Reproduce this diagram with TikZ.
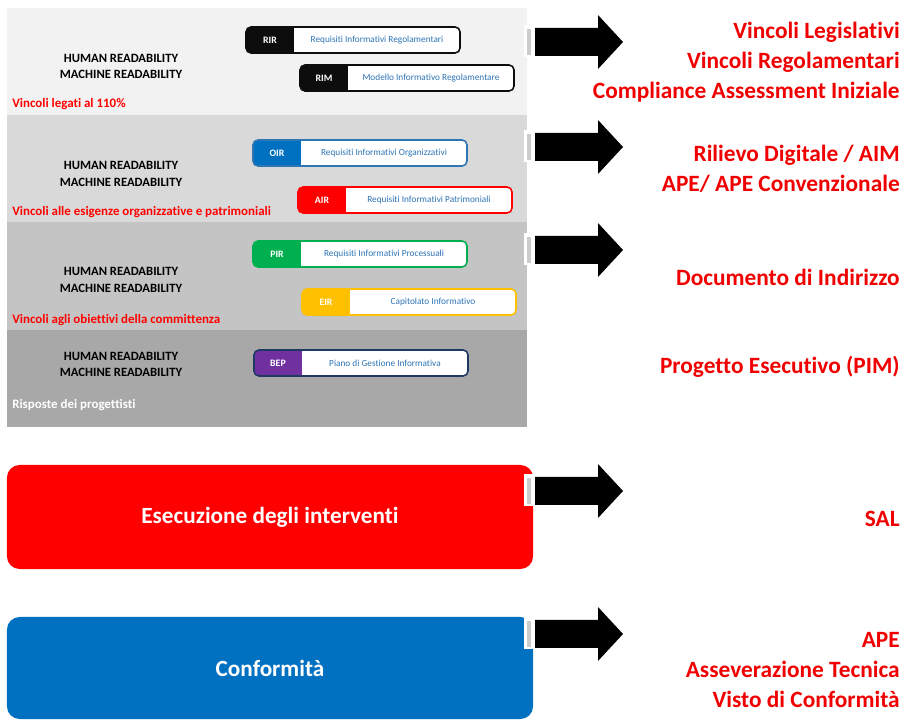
\documentclass[tikz,border=0pt]{standalone}
\usepackage{fontspec}
\setmainfont{Carlito}[Ligatures={NoCommon}]
\usepackage{xcolor}
\usepackage{tikz}
\usetikzlibrary{positioning}

\definecolor{bandA}{HTML}{F2F2F2}
\definecolor{bandB}{HTML}{D9D9D9}
\definecolor{bandC}{HTML}{C4C4C4}
\definecolor{bandD}{HTML}{A8A8A8}
\definecolor{reqblue}{HTML}{2E75B6}
\definecolor{oirblue}{HTML}{0070C0}
\definecolor{airred}{HTML}{FF0000}
\definecolor{pirgreen}{HTML}{00B050}
\definecolor{eiryellow}{HTML}{FFC000}
\definecolor{beppurple}{HTML}{7030A0}
\definecolor{bepnavy}{HTML}{203864}
\definecolor{tagblack}{HTML}{0D0D0D}
\definecolor{outred}{HTML}{F00000}
\definecolor{confblue}{HTML}{0070C0}

\begin{document}
\begin{tikzpicture}[x=0.025cm, y=-0.025cm, every node/.style={inner sep=0pt},
  hrtext/.style={font=\bfseries\fontsize{9}{12}\selectfont, align=center},
  bandnote/.style={font=\bfseries\fontsize{9.2}{10}\selectfont, text=red, anchor=west},
  tagtext/.style={font=\bfseries\fontsize{7}{8}\selectfont, text=white},
  reqtext/.style={font=\fontsize{6.6}{7}\selectfont, text=reqblue},
  outtext/.style={font=\bfseries\fontsize{16.6}{21.3}\selectfont, text=outred, align=right, anchor=east},
  phasebox/.style={rounded corners=9pt, text=white, minimum width=13.15cm,
    font=\bfseries\fontsize{16.5}{20}\selectfont}]
  \useasboundingbox (0,0) rectangle (904,720);

  % grey bands
  \fill[bandA] (7,8) rectangle (527,115);
  \fill[bandB] (7,115) rectangle (527,222);
  \fill[bandC] (7,222) rectangle (527,330);
  \fill[bandD] (7,330) rectangle (527,427);

  % readability labels
  \foreach \yy/\nm in {66.5/hrA, 174/hrB, 280/hrC, 364.5/hrD}
    \node[hrtext] (\nm) at (121,\yy) {HUMAN READABILITY\\MACHINE READABILITY};

  \node[bandnote] (noteA) at (12,104) {Vincoli legati al 110\%};
  \node[bandnote] (noteB) at (12,212) {Vincoli alle esigenze organizzative e patrimoniali};
  \node[bandnote] (noteC) at (12,320) {Vincoli agli obiettivi della committenza};
  \node[bandnote, text=white] (noteD) at (12,405) {Risposte dei progettisti};

  % information requirement pills
  \foreach \px/\py/\col/\bord/\tag/\txt in {
      246/27/tagblack/tagblack/RIR/Requisiti Informativi Regolamentari,
      300/65/tagblack/tagblack/RIM/Modello Informativo Regolamentare,
      253/140/oirblue/reqblue/OIR/Requisiti Informativi Organizzativi,
      298/187/airred/airred/AIR/Requisiti Informativi Patrimoniali,
      253/241/pirgreen/pirgreen/PIR/Requisiti Informativi Processuali,
      302/289/eiryellow/eiryellow/EIR/Capitolato Informativo,
      254/350/beppurple/bepnavy/BEP/Piano di Gestione Informativa} {
    \begin{scope}
      \clip[rounded corners=3.5pt] (\px,\py) rectangle +(214,26);
      \fill[white] (\px,\py) rectangle +(214,26);
      \fill[\col] (\px,\py) rectangle +(48,26);
    \end{scope}
    \draw[\bord, line width=1.1pt, rounded corners=3.5pt] (\px,\py) rectangle +(214,26);
    \node[tagtext] (\tag) at (\px+24,\py+13) {\tag};
    \node[reqtext] (\tag-txt) at (\px+131,\py+13) {\txt};
  }

  % phase boxes
  \node[phasebox, fill=red, minimum height=2.6cm] (esec) at (270,517) {Esecuzione degli interventi};
  \node[phasebox, fill=confblue, minimum height=2.55cm] (conf) at (270,668) {Conformità};

  % block arrows
  \foreach \yy in {42,147,250,491,634} {
    \fill[black] (535,\yy-14) -- (598,\yy-14) -- (598,\yy-27) -- (623,\yy)
      -- (598,\yy+27) -- (598,\yy+14) -- (535,\yy+14) -- cycle;
    \fill[white] (524,\yy-17) rectangle (534,\yy+15);
    \fill[gray!40] (527,\yy-13) rectangle (531,\yy+13);
  }

  % outputs
  \node[outtext] (outA) at (900,62) {Vincoli Legislativi\\Vincoli Regolamentari\\Compliance Assessment Iniziale};
  \node[outtext] (outB) at (900,169) {Rilievo Digitale / AIM\\APE/ APE Convenzionale};
  \node[outtext] (outC) at (900,277) {Documento di Indirizzo};
  \node[outtext] (outD) at (900,367) {Progetto Esecutivo (PIM)};
  \node[outtext] (outE) at (900,519) {SAL};
  \node[outtext] (outF) at (900,670) {APE\\Asseverazione Tecnica\\Visto di Conformità};
\end{tikzpicture}
\end{document}
